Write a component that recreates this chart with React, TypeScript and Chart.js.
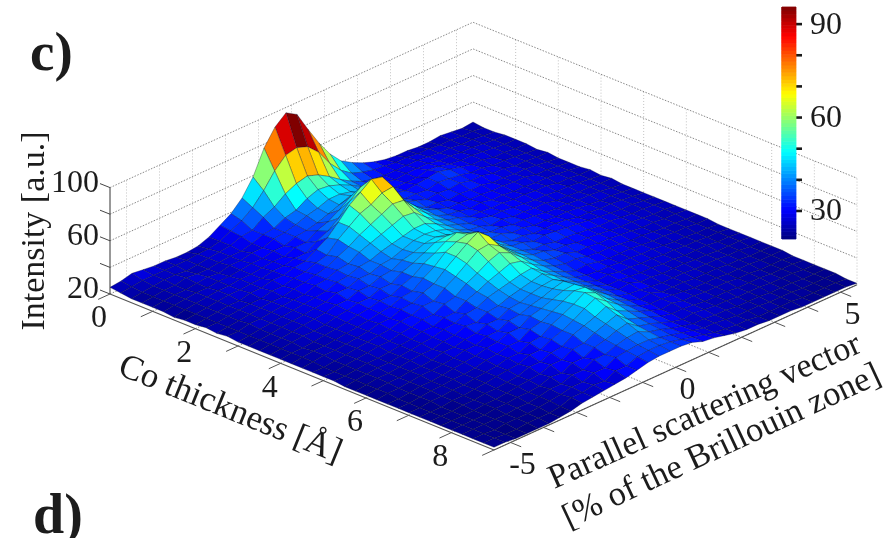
import React, { useEffect, useRef } from "react";
import { Chart, registerables } from "chart.js";

Chart.register(...registerables);

const coTicks = [0, 1, 2, 3, 4, 5, 6, 7, 8, 9];
const coLabels = [0, 2, 4, 6, 8];
const parTicks = [-5, -4, -3, -2, -1, 0, 1, 2, 3, 4, 5];
const parLabels = [-5, 0, 5];
const zGrid = [20, 40, 60, 80, 100];
const zLabels = [20, 60, 100];
const cbTicks = [30, 40, 50, 60, 70, 80, 90];
const cbLabels = [30, 60, 90];
const COLOR_MIN = 21;
const COLOR_MAX = 95.5;
const CO_STEP = 0.25;
const PAR_STEP = 1 / 3;

// intensity[row = Co thickness step][column = parallel scattering step]
const intensity: number[][] = [
[25,26,28,27,26,26,25,25,26,29,34,39,47,59,77,89,96,91,76,62,50,41,36,32,29,27,26,26,25,25,26,25,24,25],
[24,25,26,26,26,26,26,27,27,29,33,37,43,52,63,71,73,70,62,50,41,35,32,30,29,28,28,27,27,26,26,25,25,24],
[23,24,25,26,26,25,26,27,28,29,32,33,39,43,49,53,55,52,47,41,36,32,30,29,29,29,29,28,27,27,26,26,25,24],
[23,24,25,25,27,26,26,27,28,28,30,33,34,38,40,45,48,47,44,40,35,32,31,29,30,30,30,28,28,27,27,26,25,25],
[23,24,25,25,26,27,26,28,28,30,30,33,34,36,39,41,44,44,42,38,35,32,30,30,30,32,31,29,28,28,27,26,25,25],
[23,24,25,26,26,27,27,28,29,29,31,31,34,35,37,40,43,46,44,39,35,33,31,32,33,34,32,30,28,28,26,26,25,25],
[22,24,25,26,27,27,28,28,29,30,30,33,33,38,41,46,52,52,46,40,35,32,32,31,33,32,31,29,29,27,27,26,25,24],
[23,24,25,26,27,27,28,28,30,30,32,32,37,41,47,56,63,62,53,43,36,34,31,32,31,32,30,30,28,28,26,26,25,25],
[23,24,25,26,26,28,28,30,30,32,33,38,43,51,60,66,72,70,58,44,36,32,32,30,31,30,30,28,28,27,27,26,25,24],
[24,24,25,26,27,27,29,29,31,32,35,37,45,51,57,60,65,66,52,44,37,34,31,31,30,30,29,29,28,28,26,26,25,24],
[23,24,25,26,27,28,28,30,31,33,35,39,43,48,52,56,60,59,49,42,36,33,32,30,31,29,29,28,28,27,27,26,25,24],
[24,24,26,26,27,28,29,29,32,33,36,37,42,45,48,51,54,53,46,40,36,34,31,31,30,30,29,29,28,28,26,26,25,25],
[23,24,25,26,27,28,29,30,31,34,35,38,39,42,44,46,48,48,44,39,36,33,33,31,31,30,29,28,28,27,27,26,25,24],
[23,24,25,26,27,28,29,30,33,33,36,36,39,40,43,46,47,46,43,39,35,34,31,32,30,30,29,29,27,27,26,26,25,25],
[23,24,25,26,27,28,29,31,31,34,34,37,38,42,44,47,48,46,43,38,36,33,33,31,31,30,29,28,28,27,27,26,25,24],
[23,24,25,26,26,27,29,30,32,32,35,35,40,43,47,51,52,50,46,40,35,35,32,32,30,30,29,29,28,27,26,26,25,24],
[23,24,24,25,26,27,28,30,31,33,33,37,40,46,50,55,58,54,49,42,36,33,33,31,31,31,30,28,28,27,27,26,25,24],
[23,24,25,25,26,27,28,29,31,32,35,36,42,47,54,58,60,58,48,41,36,35,32,33,32,31,30,29,28,27,26,26,25,24],
[23,24,25,25,26,27,28,30,30,33,34,38,41,48,54,60,65,58,47,40,36,33,33,31,31,30,29,28,28,27,26,26,25,24],
[23,23,24,25,26,27,28,29,31,32,35,35,41,46,52,58,59,54,46,40,36,35,32,32,30,30,29,28,27,27,26,25,25,24],
[23,23,24,25,26,27,27,29,30,32,32,36,38,44,48,53,56,52,45,39,35,33,33,30,30,29,29,28,27,26,26,25,25,24],
[23,23,24,25,25,26,27,28,30,30,33,33,38,41,45,48,51,49,43,38,34,32,32,30,29,29,28,27,27,26,25,25,24,24],
[22,23,24,25,25,26,27,28,29,31,32,35,36,40,42,44,46,47,41,37,33,30,31,29,28,28,28,27,26,26,25,25,24,24],
[22,23,24,24,25,26,27,27,29,30,33,32,36,37,40,42,44,46,41,36,32,30,29,29,28,28,27,27,26,25,25,24,24,23],
[22,23,24,24,25,25,26,28,28,30,31,34,34,38,39,42,44,45,40,36,32,29,30,28,28,27,27,26,26,25,25,24,24,23],
[22,23,23,24,25,25,26,27,29,29,32,32,36,37,40,42,45,47,40,36,32,29,29,28,27,27,26,26,25,25,25,24,24,23],
[22,22,23,24,24,25,26,27,28,30,31,34,34,39,41,44,47,48,41,36,32,29,30,27,27,26,26,26,25,25,24,24,24,23],
[22,22,23,24,24,25,25,26,28,29,31,31,36,38,42,46,50,49,42,36,31,29,28,27,26,26,26,25,25,25,24,24,23,23],
[22,22,23,23,24,24,25,26,27,29,29,33,34,39,43,47,52,48,40,35,31,28,29,26,26,26,25,25,25,24,24,23,23,23],
[22,22,22,23,23,24,25,26,27,28,31,31,35,38,42,47,51,45,39,34,30,28,28,27,26,25,25,25,24,24,24,23,23,23],
[22,22,22,23,23,24,24,25,26,29,29,32,33,38,41,44,48,41,37,33,30,27,28,26,26,25,25,25,24,24,23,23,23,22],
[22,22,22,22,23,23,24,25,26,27,30,30,34,35,39,42,45,38,35,32,29,27,27,26,25,25,25,24,24,24,23,23,23,22],
[22,22,22,22,23,23,24,24,25,28,27,31,31,35,37,40,42,36,34,31,28,26,27,26,25,25,24,24,24,23,23,23,22,22],
[22,22,22,22,22,23,23,24,26,26,29,29,33,33,36,38,39,35,33,30,28,26,26,25,25,24,24,24,23,23,23,22,22,22],
[22,22,21,22,22,22,23,24,25,27,27,30,30,34,35,36,36,34,32,30,28,26,26,25,24,24,24,23,23,23,22,22,22,22],
[22,22,21,21,22,22,22,23,26,26,28,27,31,31,34,35,35,34,32,30,28,26,25,24,24,23,23,23,23,22,22,22,22,21],
[22,22,21,21,21,21,22,23,25,26,27,28,29,31,33,34,34,34,33,30,29,27,25,24,24,23,23,23,22,22,22,22,22,21],
];

const W = 886;
const H = 538;
const PAR_MIN = -5.5;
const PAR_MAX = 5.5;
const CO_MAX = 9;

function project(co: number, par: number, z: number) {
  const p = par - PAR_MIN;
  return {
    x: 110 + co * 42.67 + p * 33,
    y: 294 + co * 17.33 - p * 15.03 - (z - 20) * 1.33,
  };
}

function jet(v: number) {
  const t = Math.min(1, Math.max(0, (v - COLOR_MIN) / (COLOR_MAX - COLOR_MIN)));
  const ch = (c: number) => Math.round(255 * Math.min(1, Math.max(0, 1.5 - Math.abs(4 * t - c))));
  return `rgb(${ch(3)},${ch(2)},${ch(1)})`;
}

function cbY(v: number) {
  return 239 - ((v - COLOR_MIN) / (COLOR_MAX - COLOR_MIN)) * 232;
}

function line(points: { x: number; y: number }[], color: string, width: number, dash: number[] = []) {
  return {
    data: points,
    showLine: true,
    borderColor: color,
    borderWidth: width,
    borderDash: dash,
    pointRadius: 0,
    fill: false,
    tension: 0,
  };
}

function poly(points: { x: number; y: number }[], fillColor: string, stroke: string, width: number) {
  return {
    data: [...points, points[0]],
    showLine: true,
    borderColor: stroke,
    borderWidth: width,
    backgroundColor: fillColor,
    pointRadius: 0,
    fill: "shape",
    tension: 0,
  };
}

function buildDatasets() {
  const top: any[] = [];
  // colour bar
  for (const v of cbTicks) {
    const y = cbY(v);
    top.push(line([{ x: 796, y }, { x: 802, y }], "#1a1a1a", 2.6));
  }
  for (let k = 0; k < 64; k++) {
    const a = COLOR_MIN + ((COLOR_MAX - COLOR_MIN) * k) / 64;
    const b = COLOR_MIN + ((COLOR_MAX - COLOR_MIN) * (k + 1)) / 64;
    const c = jet((a + b) / 2);
    top.unshift(poly([{ x: 782, y: cbY(a) }, { x: 796, y: cbY(a) }, { x: 796, y: cbY(b) }, { x: 782, y: cbY(b) }], c, c, 0.8));
  }

  // surface cells, farthest last in the list so the nearest paint on top
  const cells: { depth: number; ds: any }[] = [];
  const rows = intensity.length;
  const cols = intensity[0].length;
  for (let i = 0; i < rows - 1; i++) {
    for (let j = 0; j < cols - 1; j++) {
      const co0 = i * CO_STEP, co1 = (i + 1) * CO_STEP;
      const p0 = PAR_MIN + j * PAR_STEP, p1 = PAR_MIN + (j + 1) * PAR_STEP;
      const pts = [
        project(co0, p0, intensity[i][j]),
        project(co1, p0, intensity[i + 1][j]),
        project(co1, p1, intensity[i + 1][j + 1]),
        project(co0, p1, intensity[i][j + 1]),
      ];
      cells.push({ depth: i - j, ds: poly(pts, jet(intensity[i][j]), "rgba(5,10,40,0.42)", 0.75) });
    }
  }
  cells.sort((a, b) => b.depth - a.depth);

  // walls, floor and axes
  const back: any[] = [];
  const major = "rgba(70,70,70,0.8)";
  const minor = "rgba(160,160,160,0.7)";
  for (const z of zGrid) {
    if (z > 20) {
      back.push(line([project(0, PAR_MIN, z), project(0, PAR_MAX, z), project(CO_MAX, PAR_MAX, z)], major, 0.8, [1.5, 1.5]));
    }
    const a = project(0, PAR_MIN, z);
    back.push(line([a, { x: a.x - 10, y: a.y - 4 }], "#444", 1));
  }
  for (const par of parTicks) {
    back.push(line([project(0, par, 20), project(0, par, 100)], minor, 0.9, [1, 2]));
    back.push(line([project(0, par, 20), project(CO_MAX, par, 20)], major, 0.8, [1.5, 1.5]));
    back.push(line([project(CO_MAX, par, 20), project(CO_MAX + 0.25, par, 20)], "#555", 1));
  }
  for (const co of coTicks) {
    if (co > 0) back.push(line([project(co, PAR_MAX, 20), project(co, PAR_MAX, 100)], minor, 0.9, [1, 2]));
    back.push(line([project(co, PAR_MIN, 20), project(co, PAR_MAX, 20)], major, 0.8, [1.5, 1.5]));
    back.push(line([project(co, PAR_MIN, 20), project(co, PAR_MIN - 0.36, 20)], "#555", 1));
  }
  back.push(line([project(0, PAR_MIN, 20), project(0, PAR_MIN, 100)], "#333", 1));
  back.push(line([project(0, PAR_MIN, 20), project(CO_MAX, PAR_MIN, 20)], "#555", 1.1));
  back.push(line([project(CO_MAX, PAR_MIN, 20), project(CO_MAX, PAR_MAX, 20)], "#555", 1.1));

  return [...top, ...cells.map((c) => c.ds), ...back];
}

const SERIF = '"Liberation Serif", serif';

const textPlugin = {
  id: "chartText",
  afterDraw(chart: any) {
    const ctx = chart.ctx;
    const put = (text: string, x: number, y: number, size: number, rot = 0, align: CanvasTextAlign = "center", bold = false, base: CanvasTextBaseline = "middle") => {
      ctx.save();
      ctx.translate(x, y);
      ctx.rotate((rot * Math.PI) / 180);
      ctx.font = `${bold ? "bold " : ""}${size}px ${SERIF}`;
      ctx.fillStyle = "#1c1c1c";
      ctx.textAlign = align;
      ctx.textBaseline = base;
      ctx.fillText(text, 0, 0);
      ctx.restore();
    };
    for (const z of zLabels) {
      const p = project(0, PAR_MIN, z);
      put(String(z), 99, p.y - 4, 32, 0, "right");
    }
    for (const c of coLabels) {
      const p = project(c, PAR_MIN, 20);
      put(String(c), p.x - 11, p.y + 25, 32);
    }
    for (const v of parLabels) {
      const p = project(CO_MAX, v, 20);
      put(String(v), p.x + 12, p.y + 23, 32);
    }
    for (const v of cbLabels) {
      put(String(v), 810, cbY(v) + 1, 32, 0, "left");
    }
    put("c)", 30, 70, 55, 0, "left", true, "alphabetic");
    put("d)", 33, 533, 56, 0, "left", true, "alphabetic");
    put("Intensity [a.u.]", 44, 231, 34, -90, "center", false, "alphabetic");
    put("Co thickness [Å]", 230, 410, 35, 22);
    put("Parallel scattering vector", 705, 412, 34, -24);
    put("[% of the Brillouin zone]", 722, 447, 34.5, -25);
  },
};

export default function App() {
  const ref = useRef<HTMLCanvasElement | null>(null);
  useEffect(() => {
    document.body.style.margin = "0";
    const canvas = ref.current;
    if (!canvas) return;
    const chart = new Chart(canvas, {
      type: "scatter",
      data: { datasets: buildDatasets() },
      options: {
        responsive: false,
        animation: false,
        events: [],
        layout: { padding: 0 },
        scales: {
          x: { type: "linear", min: 0, max: W, display: false },
          y: { type: "linear", min: 0, max: H, reverse: true, display: false },
        },
        plugins: { legend: { display: false }, tooltip: { enabled: false }, title: { display: false } },
      },
      plugins: [textPlugin],
    } as any);
    return () => chart.destroy();
  }, []);
  return <canvas ref={ref} width={W} height={H} style={{ display: "block", width: W, height: H, filter: "blur(0.5px)" }} />;
}
